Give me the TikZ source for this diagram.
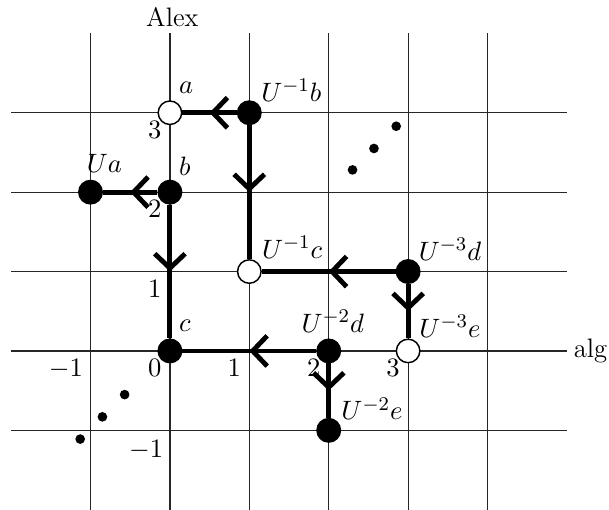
\documentclass[tikz,border=0pt]{standalone}
\usetikzlibrary{arrows.meta, decorations.markings, positioning}

\begin{document}
\begin{tikzpicture}[x=1.15cm,y=1.15cm, font=\fontsize{11}{13.5}\selectfont,
  grd/.style={line width=0.5pt, black!85},
  bnode/.style={circle, draw=black, fill=black, line width=0.6pt, inner sep=0pt, minimum size=3.4mm},
  wnode/.style={bnode, fill=white},
  walk/.style={line width=2pt, postaction={decorate},
    decoration={markings, mark=at position 0.5 with {\arrow{Straight Barb[length=2.1mm,width=4.4mm]}}}},
  num/.style={anchor=north east, inner sep=0pt},
  lab/.style={inner sep=0pt}]
\useasboundingbox (-2.14,-2) rectangle (5.53,4.42);
% grid
\foreach \x in {-1,...,4} \draw[grd] (\x,-2) -- (\x,4);
\foreach \y in {-1,...,3} \draw[grd] (-2,\y) -- (5,\y);
\node[above] (alex) at (0.03,3.97) {Alex};
\node[right] (alg) at (4.98,0) {alg};
% axis numbers
\foreach \y in {0,...,3} \node[num] at (-0.1,\y-0.1) {$\y$};
\foreach \x in {1,2,3} \node[num] at (\x-0.1,-0.1) {$\x$};
\node[num] at (-1.09,-0.1) {$-1$};
\node[num] at (-0.08,-1.12) {$-1$};
% dots
\foreach \d in {-1.13,-0.85,-0.57} \fill (\d,\d+0.02) circle (0.7mm);
\foreach \d in {2.3,2.57,2.85} \fill (\d,\d-0.02) circle (0.7mm);
% vertices
\node[wnode] (a) at (0,3) {};
\node[bnode] (ub) at (1,3) {};
\node[bnode] (ua) at (-1,2) {};
\node[bnode] (b) at (0,2) {};
\node[wnode] (uc) at (1,1) {};
\node[bnode] (u3d) at (3,1) {};
\node[bnode] (c) at (0,0) {};
\node[bnode] (u2d) at (2,0) {};
\node[wnode] (u3e) at (3,0) {};
\node[bnode] (u2e) at (2,-1) {};
\node[lab, above right=1.4mm and 0mm of a] {$a$};
\node[lab, above right=0.3mm and 0.4mm of ub] {$U^{-1}b$};
\node[lab, above=0.9mm of ua, xshift=2mm] {$Ua$};
\node[lab, above right=1.1mm and 0mm of b] {$b$};
\node[lab, above right=0.6mm and 0.5mm of uc] {$U^{-1}c$};
\node[lab, above right=0.3mm and 0.2mm of u3d] {$U^{-3}d$};
\node[lab, above right=1.4mm and 0mm of c] {$c$};
\node[lab, above=0.8mm of u2d, xshift=0.6mm] {$U^{-2}d$};
\node[lab, above right=0.6mm and 0.3mm of u3e] {$U^{-3}e$};
\node[lab, above right=0.2mm and 0.5mm of u2e] {$U^{-2}e$};
% walks
\draw[walk] (ub) -- (a);
\draw[walk] (ub) -- (uc);
\draw[walk] (b) -- (ua);
\draw[walk] (b) -- (c);
\draw[walk] (u2d) -- (c);
\draw[walk] (u3d) -- (uc);
\draw[walk] (u3d) -- (u3e);
\draw[walk] (u2d) -- (u2e);
\end{tikzpicture}
\end{document}
